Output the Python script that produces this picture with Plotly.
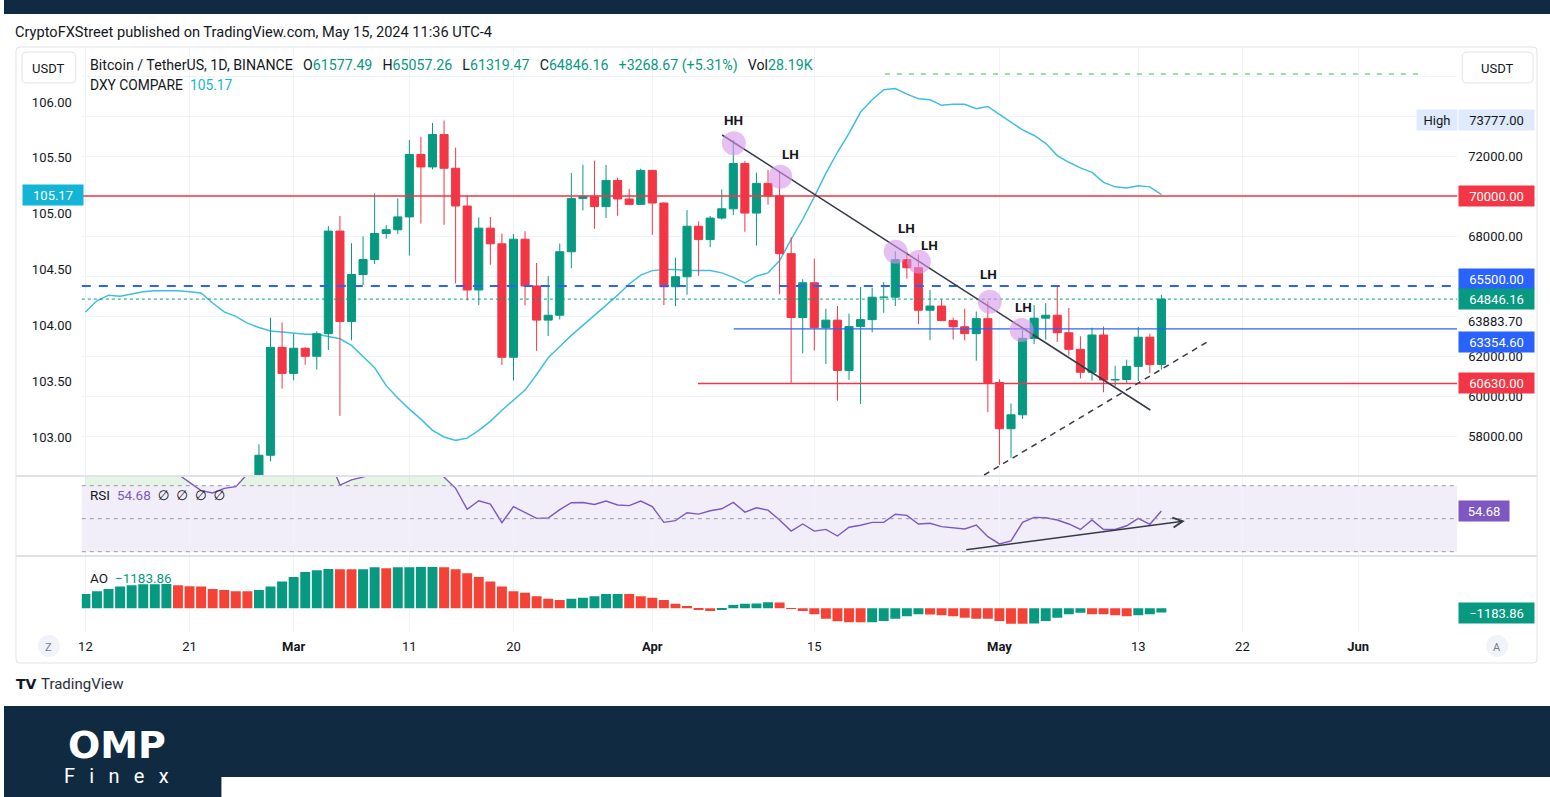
import plotly.graph_objects as go
import pandas as pd

# ---------------- DATA ----------------
all_dates = pd.date_range('2024-02-12', '2024-05-15', freq='D')      # indicator dates
candle_dates = pd.date_range('2024-02-27', '2024-05-15', freq='D')   # visible candles

btc_open = [54476, 57037, 62432,
            61130, 62387, 61987, 63113, 68245, 63724, 66074, 66823, 68124, 68313, 68955, 72078, 71453, 73072, 71388, 69500,
            65300, 68393, 67609, 61937, 67840, 65501, 63796, 64037, 67211, 69880, 69988, 69469, 70780, 69850, 69582,
            71280, 69649, 65463, 65963, 68487, 67820, 68896, 69360, 71620, 69146, 70631, 70006, 67116, 63924, 65662,
            63419, 63793, 61277, 63470, 63818, 64940, 64941, 66819, 66414, 64289, 64498, 63770, 63461, 63118, 63866,
            60672, 58364, 59060, 62882, 63892, 64038, 63162, 62334, 61187, 63049, 60799, 60825, 61483, 62940, 61577.49]
btc_high = [57588, 63913, 63676,
            63114, 62433, 63231, 68499, 69000, 67641, 67980, 70136, 68541, 69887, 72800, 72966, 73650, 73777, 72420, 70043,
            68930, 68956, 68124, 68100, 68240, 66650, 65999, 67622, 71150, 71561, 71769, 71552, 70916, 70357, 71366,
            71288, 69674, 66914, 69291, 68725, 69000, 70326, 72797, 71758, 71172, 71305, 71227, 67932, 65840, 66867,
            64365, 64499, 64117, 65450, 65419, 65695, 67233, 67199, 67075, 65297, 64837, 63923, 64370, 64228, 64734,
            60841, 59625, 63320, 64548, 64646, 65500, 64400, 62986, 63421, 63469, 61515, 61818, 63450, 63118, 65057.26]
btc_low = [54450, 56738, 60364,
           60777, 61561, 61320, 62300, 59005, 62779, 65551, 66601, 67861, 68094, 67024, 68620, 71333, 68555, 65630, 64780,
           64539, 66565, 61555, 60775, 64529, 62260, 63000, 63825, 66385, 69280, 68359, 68903, 69009, 69562, 69562,
           68062, 64550, 64493, 65064, 66011, 67447, 68824, 69043, 68210, 67518, 69567, 65086, 60660, 62134, 62274,
           61600, 59768, 60803, 59600, 63180, 64160, 64500, 65864, 63589, 62794, 63749, 62824, 62781, 61765, 59191,
           56552, 56911, 58848, 62591, 62822, 62700, 62018, 60877, 60769, 60187, 60487, 60632, 60749, 61142, 61319.47]
btc_close = [57037, 62432, 61130,
             62387, 61987, 63113, 68245, 63724, 66074, 66823, 68124, 68313, 68955, 72078, 71453, 73072, 71388, 69500, 65300,
             68393, 67609, 61937, 67840, 65501, 63796, 64037, 67211, 69880, 69988, 69469, 70780, 69850, 69582, 71280,
             69649, 65463, 65963, 68487, 67820, 68896, 69360, 71620, 69146, 70631, 70006, 67116, 63924, 65662, 63419,
             63793, 61277, 63470, 63818, 64940, 64941, 66819, 66414, 64289, 64498, 63770, 63461, 63118, 63866, 60672,
             58364, 59060, 62882, 63892, 64038, 63162, 62334, 61187, 63049, 60799, 60825, 61483, 62940, 61577.49, 64846.16]
last_volume = '28.19K'

dxy = [104.12, 104.22, 104.27, 104.26, 104.28, 104.30, 104.31, 104.31, 104.31, 104.30, 104.29, 104.20, 104.12, 104.08,
       104.02, 103.98, 103.95, 103.94,
       103.93, 103.92, 103.92, 103.90, 103.88, 103.82, 103.72, 103.62, 103.46, 103.35, 103.25, 103.16, 103.06, 103.00,
       102.97, 102.99, 103.06, 103.14, 103.24, 103.33, 103.42, 103.56, 103.71, 103.81, 103.91, 104.00, 104.09, 104.18,
       104.27, 104.37, 104.45,
       104.49, 104.50, 104.50, 104.49, 104.49, 104.49, 104.47, 104.43, 104.38, 104.44, 104.47, 104.58, 104.77, 104.95,
       105.15, 105.36, 105.55, 105.72, 105.91, 106.02, 106.11, 106.12, 106.07, 106.03, 106.02, 105.97, 105.98, 105.98,
       105.94, 105.96,
       105.89, 105.82, 105.75, 105.70, 105.63, 105.52, 105.46, 105.41, 105.37, 105.28, 105.24, 105.23, 105.25, 105.24,
       105.17]

rsi = [82, 80, 84, 85, 83, 80, 81, 80, 77, 72, 67, 65.6, 68.4, 69.4, 77, 80, 85, 83,
       84, 83, 84, 88, 70.4, 73.5, 75, 77, 77.5, 78.5, 82, 80, 82, 75, 68.4, 55.7, 60.9, 58.9, 47.6, 57.3, 53.5, 50.2,
       50.4, 55.5, 59.7, 59.8, 58.6, 60.7, 58.3, 57.9, 60.7,
       57.3, 47.8, 48.8, 53.6, 52.8, 54.8, 56, 59.9, 54, 56.6, 55.2, 49.2, 42.5, 46.8, 42.5, 43.5, 39.5, 44.8, 46, 47.8,
       47.8, 52.7, 52, 46.8, 47.2, 45.2, 44.6, 43.8, 46.2, 39.1,
       34.7, 36.5, 47.8, 50.8, 50.6, 49.2, 46.8, 43.5, 49.2, 43.5, 43.5, 45.7, 50.2, 46.6, 54.68]

ao = [3930, 4680, 5310, 5970, 6330, 6600, 6630, 6650, 6330, 6050, 5970, 5310, 5030, 4700, 4670, 5030, 5970, 7340,
      8610, 9980, 10450, 10780, 10750, 10720, 10760, 11280, 11000, 11270, 11300, 11330, 11360, 11280, 10730, 9630,
      8610, 7340, 5970, 4680, 4310, 3300, 2660, 2290, 2660, 2930, 3300, 3940, 3960, 3920, 3300,
      2930, 2290, 1280, 640, -220, -740, -360, 900, 1280, 1300, 1650, 1620, 80, -740, -1650, -2840, -3580, -3850,
      -3870, -3840, -3480, -2840, -2200, -1650, -1680, -1930, -2200, -2570, -2840, -2860,
      -3480, -4220, -4240, -4210, -3480, -2570, -1650, -1190, -1650, -1670, -1930, -2200, -1930, -1650, -1183.86]

tick_dates = ['2024-02-12', '2024-02-21', '2024-03-01', '2024-03-11', '2024-03-20', '2024-04-01',
              '2024-04-15', '2024-05-01', '2024-05-13', '2024-05-22', '2024-06-01']
tick_text = ['12', '21', '<b>Mar</b>', '11', '20', '<b>Apr</b>', '15', '<b>May</b>', '13', '22', '<b>Jun</b>']

price_ticks = [56000, 58000, 60000, 62000, 64000, 66000, 68000, 70000, 72000, 74000, 76000]
price_tick_text = ['', '58000.00', '60000.00', '62000.00', '', '', '68000.00', '', '72000.00', '', '']
dxy_ticks = [103.0, 103.5, 104.0, 104.5, 105.0, 105.5, 106.0]
dxy_tick_text = ['103.00', '103.50', '104.00', '104.50', '105.00', '105.50', '106.00']

# drawings (chart annotations)
swing_labels = ['HH', 'LH', 'LH', 'LH', 'LH', 'LH']
swing_dates = ['2024-04-08 01:00', '2024-04-12 01:30', '2024-04-22 00:45', '2024-04-24 01:00',
               '2024-04-30 04:00', '2024-05-02 22:00']
swing_prices = [72635, 70965, 67215, 66715, 64715, 63300]
label_dates = ['2024-04-08 01:00', '2024-04-12 23:30', '2024-04-22 23:30', '2024-04-24 23:45',
               '2024-04-30 00:45', '2024-05-03 01:00']
label_prices = [73800, 72100, 68415, 67550, 66100, 64435]
down_trend = (['2024-04-07 00:45', '2024-05-14 01:00'], [73050, 59300])
up_trend = (['2024-04-29 16:20', '2024-05-19 00:00'], [56050, 62717])
rsi_trend = (['2024-04-28 00:00', '2024-05-17 00:45'], [31.0, 48.6])
target_line = (['2024-04-21 02:30', '2024-06-06 19:00'], 76100)

# ---------------- STYLE / LAYOUT ----------------
W, H = 1550, 797
UP, DN = '#089981', '#f23645'
AO_UP, AO_DN = '#089981', '#f44336'
BLUE = '#2962ff'
DXY_C = '#3fbfe0'
RSI_C = '#7e57c2'
TXT = '#131722'
NAVY = '#0f2a41'
GRID = '#f0f3fa'
FONT = 'Roboto, DejaVu Sans, sans-serif'


def PX(x):
    return x / W


def PY(y):
    return 1 - y / H


base = pd.Timestamp('2024-04-01')
PXD = 11.6


def xdate(xp):
    return base + pd.Timedelta(days=(xp - 650) / PXD)


X0, X1 = 78, 1457
x_range = [xdate(X0), xdate(X1)]
MAIN_T, MAIN_B = 47, 476
RSI_T, RSI_B = 476, 556
AO_T, AO_B = 556, 632

fig = go.Figure()

# DXY compare line
fig.add_trace(go.Scatter(x=all_dates, y=dxy, mode='lines', line=dict(color=DXY_C, width=1.5),
                         xaxis='x', yaxis='y', hoverinfo='skip'))

# candles
day_ms = 86400000
up_mask = [c >= o for o, c in zip(btc_open, btc_close)]
for is_up, col in [(True, UP), (False, DN)]:
    xs, lows, highs, bases, heights = [], [], [], [], []
    for d, o, h, l, c, m in zip(candle_dates, btc_open, btc_high, btc_low, btc_close, up_mask):
        if m == is_up:
            xs.append(d)
            bases.append(min(o, c))
            heights.append(abs(c - o))
            lows.append(l)
            highs.append(h)
    wx, wy = [], []
    for d, l, h in zip(xs, lows, highs):
        wx += [d, d, None]
        wy += [l, h, None]
    fig.add_trace(go.Scatter(x=wx, y=wy, mode='lines', line=dict(color=col, width=1),
                             xaxis='x', yaxis='y2', hoverinfo='skip'))
    fig.add_trace(go.Bar(x=xs, y=heights, base=bases, width=0.7 * day_ms,
                         marker=dict(color=col, line=dict(color=col, width=1)),
                         xaxis='x', yaxis='y2', hoverinfo='skip'))

# RSI overbought fill
rsi_ob = [max(v, 70) for v in rsi]
fig.add_trace(go.Scatter(x=all_dates, y=[70] * len(rsi), mode='lines', line=dict(width=0),
                         xaxis='x2', yaxis='y3', hoverinfo='skip'))
fig.add_trace(go.Scatter(x=all_dates, y=rsi_ob, mode='lines', line=dict(width=0), fill='tonexty',
                         fillcolor='rgba(76,175,80,0.14)', xaxis='x2', yaxis='y3', hoverinfo='skip'))
fig.add_trace(go.Scatter(x=all_dates, y=rsi, mode='lines', line=dict(color=RSI_C, width=1.4),
                         xaxis='x2', yaxis='y3', hoverinfo='skip'))

# AO histogram
ao_cols = [AO_UP if (i == 0 or v > ao[i - 1]) else AO_DN for i, v in enumerate(ao)]
fig.add_trace(go.Bar(x=all_dates, y=ao, width=0.86 * day_ms, marker=dict(color=ao_cols, line=dict(width=0)),
                     xaxis='x3', yaxis='y4', hoverinfo='skip'))

common_x = dict(type='date', range=x_range, showgrid=True, gridcolor=GRID, gridwidth=1, tickvals=tick_dates,
                ticktext=tick_text, zeroline=False, showline=False, ticks='', fixedrange=True)
axfont = dict(family=FONT, size=13, color=TXT)

fig.update_layout(
    width=W, height=H, margin=dict(l=0, r=0, t=0, b=0), paper_bgcolor='white', plot_bgcolor='white',
    showlegend=False, barmode='overlay', font=dict(family=FONT, color=TXT),
    xaxis=dict(common_x, domain=[PX(X0), PX(X1)], anchor='y', showticklabels=False),
    xaxis2=dict(common_x, domain=[PX(X0), PX(X1)], anchor='y3', showticklabels=False),
    xaxis3=dict(common_x, domain=[PX(X0), PX(X1)], anchor='y4', showticklabels=True, tickfont=axfont,
                ticklabelstandoff=5),
    yaxis=dict(domain=[PY(MAIN_B), PY(MAIN_T)], range=[106 - (MAIN_B - 102) / 111.67, 106 + (102 - MAIN_T) / 111.67],
               side='left', anchor='x', showgrid=False, zeroline=False, tickvals=dxy_ticks, ticktext=dxy_tick_text,
               tickfont=axfont, ticks='', ticklabelstandoff=9, fixedrange=True),
    yaxis2=dict(range=[72000 - (MAIN_B - 156) * 50, 72000 + (156 - MAIN_T) * 50], overlaying='y', side='right',
                anchor='x', showgrid=True, gridcolor=GRID, zeroline=False, tickvals=price_ticks,
                ticktext=price_tick_text, tickfont=axfont, ticks='', ticklabelstandoff=10, fixedrange=True),
    yaxis3=dict(domain=[PY(RSI_B), PY(RSI_T)], range=[30 - (RSI_B - 551.7) / 1.65, 70 + (485.7 - RSI_T) / 1.65],
                side='right', anchor='x2', showgrid=False, zeroline=False, showticklabels=False, fixedrange=True),
    yaxis4=dict(domain=[PY(AO_B), PY(AO_T)], range=[-(AO_B - 608.3) * 275, (608.3 - AO_T) * 275],
                side='right', anchor='x3', showgrid=False, zeroline=False, showticklabels=False, fixedrange=True),
)


def rrect(x0, y0, x1, y1, r):
    return (f"M {PX(x0 + r)},{PY(y0)} L {PX(x1 - r)},{PY(y0)} Q {PX(x1)},{PY(y0)} {PX(x1)},{PY(y0 + r)} "
            f"L {PX(x1)},{PY(y1 - r)} Q {PX(x1)},{PY(y1)} {PX(x1 - r)},{PY(y1)} "
            f"L {PX(x0 + r)},{PY(y1)} Q {PX(x0)},{PY(y1)} {PX(x0)},{PY(y1 - r)} "
            f"L {PX(x0)},{PY(y0 + r)} Q {PX(x0)},{PY(y0)} {PX(x0 + r)},{PY(y0)} Z")


shapes = []
# page bands
shapes.append(dict(type='rect', xref='paper', yref='paper', x0=0, x1=1, y0=PY(14), y1=1, fillcolor=NAVY,
                   line=dict(width=0), layer='below'))
shapes.append(dict(type='rect', xref='paper', yref='paper', x0=0, x1=1, y0=0, y1=PY(706), fillcolor=NAVY,
                   line=dict(width=0)))
shapes.append(dict(type='rect', xref='paper', yref='paper', x0=PX(218), x1=1, y0=0, y1=PY(777), fillcolor='white',
                   line=dict(width=0)))
# chart frame and pane separators
shapes.append(dict(type='path', xref='paper', yref='paper', path=rrect(12, 47, 1537, 663, 4),
                   line=dict(color='#e0e3eb', width=1)))
for yy in (RSI_T, AO_T):
    shapes.append(dict(type='line', xref='paper', yref='paper', x0=PX(12), x1=PX(1537), y0=PY(yy), y1=PY(yy),
                       line=dict(color='#e0e3eb', width=2)))
# USDT boxes
for bx0, bx1 in ((18, 72), (1462, 1533)):
    shapes.append(dict(type='path', xref='paper', yref='paper', path=rrect(bx0, 52, bx1, 83, 5),
                       line=dict(color='#e0e3eb', width=1), fillcolor='white'))
# Z / A buttons
for cx in (45, 1497):
    shapes.append(dict(type='circle', xref='paper', yref='paper', x0=PX(cx - 11), x1=PX(cx + 11),
                       y0=PY(657), y1=PY(635), fillcolor='#f0f3fa', line=dict(width=0)))
# RSI band
shapes.append(dict(type='rect', xref='paper', yref='y3', x0=PX(X0), x1=PX(X1), y0=30, y1=70,
                   fillcolor='rgba(126,87,194,0.10)', line=dict(width=0), layer='below'))
for lv in (70, 50, 30):
    shapes.append(dict(type='line', xref='paper', yref='y3', x0=PX(X0), x1=PX(X1), y0=lv, y1=lv,
                       line=dict(color='#9598a1', width=1, dash='4px,4px')))
# horizontal levels
shapes.append(dict(type='line', xref='paper', yref='y2', x0=PX(X0), x1=PX(X1), y0=70000, y1=70000,
                   line=dict(color=DN, width=1.5)))
shapes.append(dict(type='line', xref='paper', yref='y2', x0=PX(X0), x1=PX(X1), y0=65500, y1=65500,
                   line=dict(color=BLUE, width=2, dash='9px,8px')))
shapes.append(dict(type='line', xref='paper', yref='y2', x0=PX(X0), x1=PX(X1), y0=btc_close[-1], y1=btc_close[-1],
                   line=dict(color=UP, width=1, dash='dot')))
shapes.append(dict(type='line', xref='x', yref='y2', x0='2024-04-08 01:00', x1=x_range[1], y0=63354.60,
                   y1=63354.60, line=dict(color=BLUE, width=1.2)))
shapes.append(dict(type='line', xref='x', yref='y2', x0='2024-04-04 22:30', x1=x_range[1], y0=60630, y1=60630,
                   line=dict(color=DN, width=1.5)))
shapes.append(dict(type='line', xref='x', yref='y2', x0=target_line[0][0], x1=target_line[0][1],
                   y0=target_line[1], y1=target_line[1], line=dict(color='#4caf50', width=1, dash='5px,7px')))
# trendlines
shapes.append(dict(type='line', xref='x', yref='y2', x0=down_trend[0][0], x1=down_trend[0][1],
                   y0=down_trend[1][0], y1=down_trend[1][1], line=dict(color='#363a45', width=1.5)))
shapes.append(dict(type='line', xref='x', yref='y2', x0=up_trend[0][0], x1=up_trend[0][1],
                   y0=up_trend[1][0], y1=up_trend[1][1], line=dict(color='#363a45', width=1.5, dash='6px,5px')))
# swing circles
for d, p in zip(swing_dates, swing_prices):
    shapes.append(dict(type='circle', xref='x', yref='y2', xsizemode='pixel', ysizemode='pixel', xanchor=d,
                       yanchor=p, x0=-12, x1=12, y0=-12, y1=12, fillcolor='rgba(215,150,235,0.6)',
                       line=dict(width=0)))
fig.update_layout(shapes=shapes)

ann = []


def text(x, y, t, size=13, color=TXT, xanchor='left', **kw):
    ann.append(dict(xref='paper', yref='paper', x=PX(x), y=PY(y), text=t, showarrow=False, xanchor=xanchor,
                    yanchor='middle', font=dict(family=kw.pop('family', FONT), size=size, color=color), **kw))


def span(t, c):
    return f'<span style="color:{c}">{t}</span>'


SP = '\u2002'
SP2 = '\u2002\u2009'
o, h, l, c = btc_open[-1], btc_high[-1], btc_low[-1], btc_close[-1]
chg = c - btc_close[-2]
pct = chg / btc_close[-2] * 100
vc = UP if c >= o else DN
hdr = ('Bitcoin / TetherUS, 1D, BINANCE' + SP2 + 'O' + span(f'{o:.2f}', vc) + SP2 + 'H' + span(f'{h:.2f}', vc) +
       SP2 + 'L' + span(f'{l:.2f}', vc) + SP2 + 'C' + span(f'{c:.2f}', vc) + SP2 +
       span(f'{chg:+.2f} ({pct:+.2f}%)', vc) + SP2 + 'Vol' + span(last_volume, vc))
text(9, 32, 'CryptoFXStreet published on TradingView.com, May 15, 2024 11:36 UTC-4', size=14.6)
text(84, 65, hdr, size=14.2)
text(84, 85, 'DXY COMPARE' + SP + span(f'{dxy[-1]:.2f}', '#14b4d6'), size=13.8)
text(84, 495, 'RSI' + SP + span(f'{rsi[-1]:.2f}', RSI_C) + SP + '\u2205\u2002\u2205\u2002\u2205\u2002\u2205', size=13.5)
text(84, 578, 'AO' + SP + span(f'{ao[-1]:.2f}'.replace('-', '\u2212'), UP), size=13.5)
text(45, 68, 'USDT', size=13, xanchor='center')
text(1497, 68, 'USDT', size=13, xanchor='center')
text(45, 647, 'Z', size=11, color='#787b86', xanchor='center')
text(1497, 647, 'A', size=11, color='#787b86', xanchor='center')
text(1466, 321, '63883.70', size=13)
text(10, 684, '<b>TV</b>', size=14, family='DejaVu Sans')
text(35, 684, 'TradingView', size=15, color='#2a2e39')
text(113, 745, '<b>OMP</b>', size=38, color='white', xanchor='center', family='DejaVu Sans')
text(113, 776, 'F\u2002\u2009i\u2002\u2009n\u2002\u2009e\u2002\u2009x', size=20, color='white', xanchor='center')

# swing labels
for lab, d, p in zip(swing_labels, label_dates, label_prices):
    ann.append(dict(xref='x', yref='y2', x=d, y=p, text=f'<b>{lab}</b>', showarrow=False,
                    font=dict(family=FONT, size=13.5, color=TXT)))


def box(yref, yv, t, bg, fc='white', x=1458, width=71, yshift=0, xanchor='left'):
    ann.append(dict(xref='paper', yref=yref, x=PX(x), y=yv, text=t, showarrow=False, xanchor=xanchor,
                    yanchor='middle', bgcolor=bg, borderpad=2, width=width, height=16, align='center',
                    yshift=yshift, font=dict(family=FONT, size=13, color=fc)))


box('y2', 70000, '70000.00', DN)
box('y2', 65500, '65500.00', BLUE, yshift=7)
box('y2', btc_close[-1], f'{btc_close[-1]:.2f}', UP)
box('y2', 63354.60, '63354.60', BLUE, yshift=-13)
box('y2', 60630, '60630.00', DN)
box('y2', max(btc_high), f'{max(btc_high):.2f}', '#dfeafb', fc=TXT)
box('y2', max(btc_high), 'High', '#dfeafb', fc=TXT, x=1416, width=36)
box('y', dxy[-1], f'{dxy[-1]:.2f}', '#12b5d6', x=18, width=56)
box('y3', rsi[-1], f'{rsi[-1]:.2f}', RSI_C, width=46)
box('y4', ao[-1], f'{ao[-1]:.2f}'.replace('-', '\u2212'), UP)

# RSI trend arrow
ann.append(dict(xref='x2', yref='y3', axref='x2', ayref='y3', x=rsi_trend[0][1], y=rsi_trend[1][1],
                ax=rsi_trend[0][0], ay=rsi_trend[1][0], text='', showarrow=True, arrowhead=5, arrowsize=1.3,
                arrowwidth=1.5, arrowcolor='#363a45'))

fig.update_layout(annotations=ann)
fig.write_html('out.html', config={'displayModeBar': False},
               post_script="document.body.style.margin='0';document.body.style.padding='0';"
                           "document.body.style.overflow='hidden';"
                           "document.documentElement.style.overflow='hidden';")
